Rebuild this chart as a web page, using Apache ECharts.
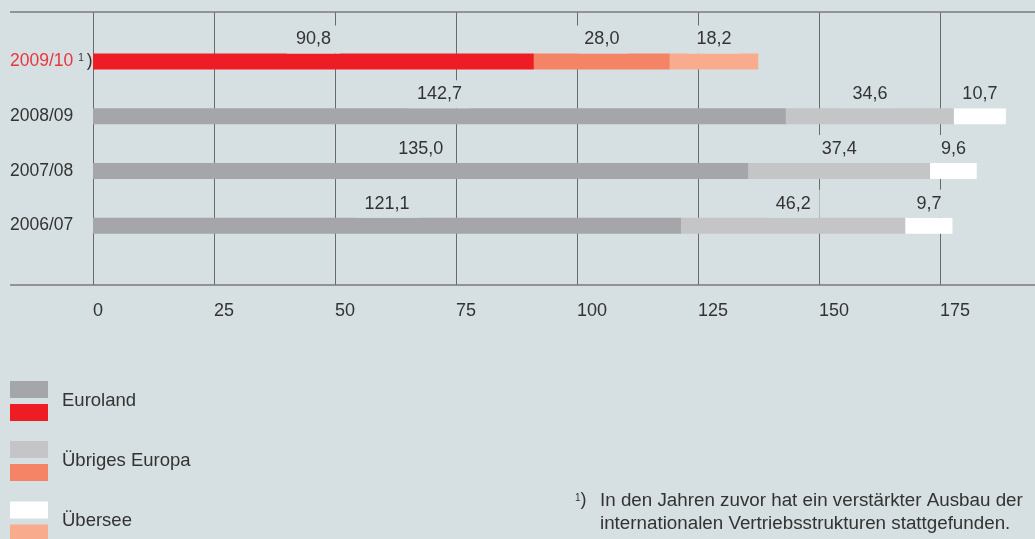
<!DOCTYPE html>
<html>
<head>
<meta charset="utf-8">
<script src="https://cdn.jsdelivr.net/npm/echarts@6/dist/echarts.min.js"></script>
<style>
html,body{margin:0;padding:0;background:#d6dfe1;}
#chart{width:1035px;height:539px;}
</style>
</head>
<body>
<div id="chart"></div>
<script>
// ---- data ----
var categories = ['2009/10', '2008/09', '2007/08', '2006/07'];
var euroland = [90.8, 142.7, 135.0, 121.1];
var uebrigesEuropa = [28.0, 34.6, 37.4, 46.2];
var uebersee = [18.2, 10.7, 9.6, 9.7];
var seriesNames = ['Euroland', 'Übriges Europa', 'Übersee'];
var xTicks = [0, 25, 50, 75, 100, 125, 150, 175];
var footnoteText = 'In den Jahren zuvor hat ein verstärkter Ausbau der\ninternationalen Vertriebsstrukturen stattgefunden.';

// ---- styles ----
var BG = '#d6dfe1';
var FONT = '"Liberation Sans", Arial, Helvetica, sans-serif';
var TXT = '#333333';
var prevColors = ['#a5a6a9', '#c4c5c7', '#ffffff'];
var currColors = ['#ee1d25', '#f58467', '#f9ab8e'];
var X_MAX = 194;

function fmt(v) { return v.toFixed(1).replace('.', ','); }

function makeSeries(idx, data) {
  return {
    name: seriesNames[idx],
    type: 'bar',
    stack: 'total',
    xAxisIndex: 0,
    yAxisIndex: 0,
    barWidth: 16,
    data: data,
    itemStyle: {
      color: function (p) { return p.dataIndex === 0 ? currColors[idx] : prevColors[idx]; }
    },
    label: {
      show: true,
      position: 'top',
      distance: 0,
      formatter: function (p) { return fmt(p.value); },
      color: TXT,
      fontFamily: FONT,
      fontSize: 18,
      lineHeight: 20,
      backgroundColor: BG,
      padding: [4, 9, 4, 9]
    },
    emphasis: { disabled: true },
    animation: false
  };
}

var chart = echarts.init(document.getElementById('chart'), null, { renderer: 'canvas' });

var graphics = [
  { type: 'line', shape: { x1: 10, y1: 12, x2: 1035, y2: 12 }, style: { stroke: '#7a7a7a', lineWidth: 1.5 }, z: 5 },
  { type: 'line', shape: { x1: 10, y1: 285, x2: 1035, y2: 285 }, style: { stroke: '#7a7a7a', lineWidth: 1.5 }, z: 5 }
];
// custom legend: two swatches per entry
var legendTop = [381, 441, 501.5];
seriesNames.forEach(function (n, i) {
  graphics.push({ type: 'rect', shape: { x: 10, y: legendTop[i], width: 38, height: 17 }, style: { fill: prevColors[i] } });
  graphics.push({ type: 'rect', shape: { x: 10, y: legendTop[i] + 23, width: 38, height: 17 }, style: { fill: currColors[i] } });
  graphics.push({ type: 'text', left: 62, top: legendTop[i] + 10, style: { text: n, fill: TXT, font: '18.5px ' + FONT } });
});
// footnote
graphics.push({ type: 'text', left: 575, top: 490, style: { text: '{s|1}{p|)}', fill: TXT, font: '18px ' + FONT,
  rich: { s: { fontSize: 10, fontFamily: FONT, lineHeight: 12, verticalAlign: 'top', padding: [3, 0, 0, 0], fill: TXT }, p: { fontSize: 18, fontFamily: FONT, lineHeight: 20, fill: TXT } } } });
graphics.push({ type: 'text', left: 600, top: 489, style: { text: footnoteText, fill: TXT, font: '18.8px ' + FONT, lineHeight: 23 } });

chart.setOption({
  backgroundColor: BG,
  animation: false,
  grid: [
    { left: 93, right: 0, top: 34, height: 219, containLabel: false },
    { left: 93, right: 0, top: 12, height: 273, containLabel: false }
  ],
  xAxis: [
    { type: 'value', gridIndex: 0, min: 0, max: X_MAX, interval: 25, show: false, splitLine: { show: false } },
    {
      type: 'value', gridIndex: 1, min: 0, max: X_MAX, interval: 25,
      axisLine: { show: false }, axisTick: { show: false },
      splitLine: { show: true, showMaxLine: false, lineStyle: { color: '#6a6a6a', width: 1 } },
      axisLabel: {
        show: true, align: 'left', margin: 17, color: TXT, fontFamily: FONT, fontSize: 18,
        formatter: function (v) { return xTicks.indexOf(v) >= 0 ? String(v) : ''; }
      }
    }
  ],
  yAxis: [
    {
      type: 'category', gridIndex: 0, inverse: true, data: categories,
      axisLine: { show: false }, axisTick: { show: false }, splitLine: { show: false },
      axisLabel: {
        align: 'left', margin: 83, fontFamily: FONT, fontSize: 17.5, color: TXT,
        formatter: function (v, i) { return i === 0 ? '{r|' + v + '}{s|1}{p|)}' : '{n|' + v + '}'; },
        rich: {
          r: { color: '#e9363c', fontFamily: FONT, fontSize: 17.5, lineHeight: 20 },
          n: { color: TXT, fontFamily: FONT, fontSize: 17.5, lineHeight: 20 },
          s: { color: TXT, fontFamily: FONT, fontSize: 10, lineHeight: 12, verticalAlign: 'top', padding: [2, 0, 0, 5] },
          p: { color: TXT, fontFamily: FONT, fontSize: 17.5, lineHeight: 20, padding: [0, 0, 0, 3] }
        }
      }
    },
    { type: 'value', gridIndex: 1, min: 0, max: 1, show: false }
  ],
  series: [
    makeSeries(0, euroland),
    makeSeries(1, uebrigesEuropa),
    makeSeries(2, uebersee)
  ],
  graphic: graphics
});
</script>
</body>
</html>
